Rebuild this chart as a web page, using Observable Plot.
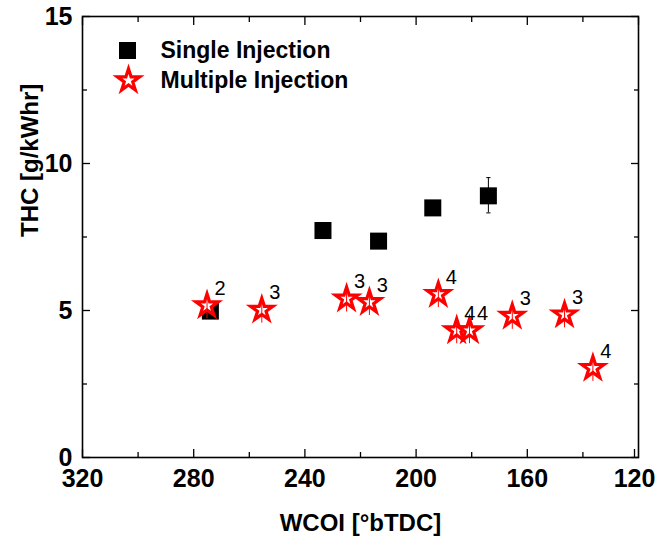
<!DOCTYPE html>
<html><head><meta charset="utf-8">
<script src="https://cdn.jsdelivr.net/npm/d3@7"></script>
<script src="https://cdn.jsdelivr.net/npm/@observablehq/plot@0.6"></script>
<style>body{margin:0;background:#fff;} #chart svg{display:block;}</style>
</head><body><div id="chart"></div>
<script>
// ---- data ----
const seriesNames = ["Single Injection", "Multiple Injection"];
const singleX = [274, 233.5, 213.5, 194, 174];
const singleY = [4.98, 7.72, 7.36, 8.49, 8.9];
const singleErrLo = [null, null, null, null, 8.32];
const singleErrHi = [null, null, null, null, 9.52];
const multiX = [275.2, 255.5, 225, 216.8, 192, 185.4, 180.8, 165.4, 146.6, 136.4];
const multiY = [5.17, 5.02, 5.40, 5.28, 5.55, 4.32, 4.32, 4.81, 4.86, 3.04];
const multiLabel = ["2", "3", "3", "3", "4", "4", "4", "3", "3", "4"];
const multiErr = [0.45, 0.45, 0.45, 0.45, 0.45, 0.45, 0.45, 0.45, 0.45, 0.45];
const xMajor = [320, 280, 240, 200, 160];
const xLast = [120];
const xMinor = [300, 260, 220, 180, 140];
const yMajor = [0, 5, 10, 15];
const yMinor = [2.5, 7.5, 12.5];
const xTitle = "WCOI [°bTDC]";
const yTitle = "THC [g/kWhr]";

const single = singleX.map((x, i) => ({x, y: singleY[i], lo: singleErrLo[i], hi: singleErrHi[i]}));
const multi = multiX.map((x, i) => ({x, y: multiY[i], label: multiLabel[i], lo: multiY[i] - multiErr[i], hi: multiY[i] + multiErr[i]}));
const singleBars = single.filter(d => d.lo != null);

const capSymbol = {draw(ctx, size) { const w = Math.sqrt(size) / 2; ctx.moveTo(-w, 0); ctx.lineTo(w, 0); }};
const RED = "#ff0000";
const font = {fontFamily: "'Liberation Sans', Arial, sans-serif"};

const tickFont = {fontWeight: "bold", fontSize: 25, fill: "black"};
const bold = {fontWeight: "bold", fontSize: 24, fill: "black"};
const none = () => "";
const tw = {strokeWidth: 1.3};
const allXMajor = xMajor.concat(xLast);
const starStyle = {symbol: "star", r: 7, fill: "white", stroke: RED, strokeWidth: 3.2};

const chart = Plot.plot({
  width: 655, height: 539,
  marginLeft: 82, marginRight: 17, marginTop: 16, marginBottom: 82,
  style: {...font, fontSize: "20px", background: "white", color: "black"},
  x: {domain: [320, 120], type: "linear", label: null},
  y: {domain: [0, 15], label: null},
  marks: [
    // axes: inward ticks on all sides
    Plot.axisX(xMajor, {anchor: "bottom", label: null, tickSize: -8, tickPadding: 20, tickFormat: d => String(d), ...tickFont, ...tw}),
    Plot.axisX(xLast, {anchor: "bottom", label: null, tickSize: -8, tickPadding: 20, tickFormat: d => String(d), dx: -4, ...tickFont, ...tw}),
    Plot.axisX(xMinor, {anchor: "bottom", label: null, tickSize: -5, tickFormat: none, ...tw}),
    Plot.axisX(allXMajor, {anchor: "top", label: null, tickSize: -8, tickFormat: none, ...tw}),
    Plot.axisX(xMinor, {anchor: "top", label: null, tickSize: -5, tickFormat: none, ...tw}),
    Plot.axisY(yMajor, {anchor: "left", label: null, tickSize: -8, tickPadding: 18, tickFormat: d => String(d), ...tickFont, ...tw}),
    Plot.axisY(yMinor, {anchor: "left", label: null, tickSize: -5, tickFormat: none, ...tw}),
    Plot.axisY(yMajor, {anchor: "right", label: null, tickSize: -8, tickFormat: none, ...tw}),
    Plot.axisY(yMinor, {anchor: "right", label: null, tickSize: -5, tickFormat: none, ...tw}),
    Plot.frame({stroke: "black", strokeWidth: 1.6}),
    // axis titles
    Plot.text([xTitle], {frameAnchor: "bottom", dy: 66, text: d => d, ...bold, lineAnchor: "middle"}),
    Plot.text([yTitle], {frameAnchor: "left", dx: -52, rotate: -90, text: d => d, ...bold, lineAnchor: "middle"}),
    // single injection
    Plot.ruleX(singleBars, {x: "x", y1: "lo", y2: "hi", stroke: "black", strokeWidth: 1}),
    Plot.dot(singleBars, {x: "x", y: "lo", symbol: capSymbol, r: 2.4, stroke: "black", strokeWidth: 1}),
    Plot.dot(singleBars, {x: "x", y: "hi", symbol: capSymbol, r: 2.4, stroke: "black", strokeWidth: 1}),
    Plot.dot(single, {x: "x", y: "y", symbol: "square", r: 9.6, fill: "black", stroke: "none"}),
    // multiple injection
    Plot.dot(multi, {x: "x", y: "y", ...starStyle}),
    Plot.ruleX(multi, {x: "x", y1: "lo", y2: "hi", stroke: RED, strokeWidth: 1}),
    Plot.text(multi, {x: "x", y: "y", text: "label", dx: 13, dy: -17, fontSize: 20, fill: "black"}),
    // legend
    Plot.dot([seriesNames[0]], {frameAnchor: "top-left", dx: 45, dy: 34, symbol: "square", r: 9.6, fill: "black"}),
    Plot.dot([seriesNames[1]], {frameAnchor: "top-left", dx: 46, dy: 64, ...starStyle}),
    Plot.text([seriesNames[0]], {frameAnchor: "top-left", dx: 78, dy: 34, text: d => d, textAnchor: "start", lineAnchor: "middle", fontWeight: "bold", fontSize: 23, fill: "black"}),
    Plot.text([seriesNames[1]], {frameAnchor: "top-left", dx: 78, dy: 64, text: d => d, textAnchor: "start", lineAnchor: "middle", fontWeight: "bold", fontSize: 23, fill: "black"})
  ]
});
document.getElementById("chart").appendChild(chart);
</script>
</body></html>
